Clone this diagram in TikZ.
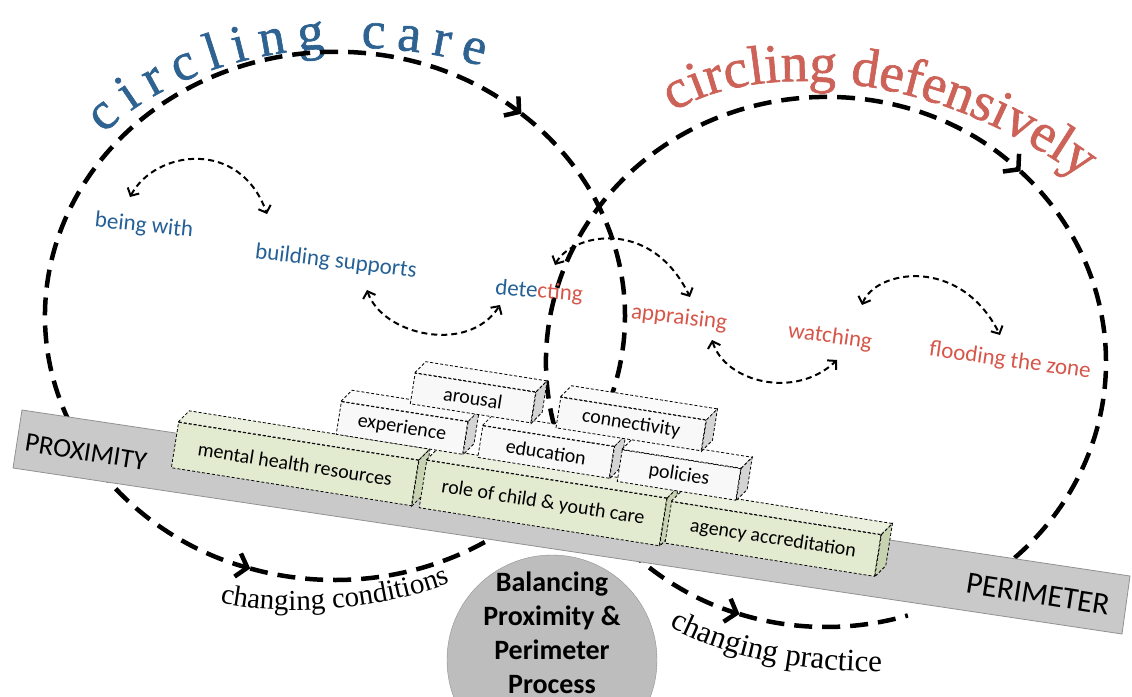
\documentclass[tikz,border=0pt]{standalone}
\usepackage{fontspec}
\setmainfont{Carlito}
\newfontfamily\serifont{Liberation Serif}
\newfontfamily\titlefont[FakeBold=1.2]{Liberation Serif}
\usepackage{xcolor}
\usepackage{tikz}
\usetikzlibrary{arrows.meta, decorations.text}

\definecolor{careblue}{RGB}{46,98,145}
\definecolor{defred}{RGB}{204,98,88}
\definecolor{labelblue}{RGB}{36,96,150}
\definecolor{labelred}{RGB}{214,86,74}
\definecolor{brickgreen}{RGB}{226,234,208}
\definecolor{brickgreenside}{RGB}{198,210,176}
\definecolor{brickwhite}{RGB}{248,248,248}
\definecolor{brickwhiteside}{RGB}{212,212,212}
\definecolor{barfill}{RGB}{201,201,201}
\definecolor{barline}{RGB}{145,145,145}
\definecolor{ballfill}{RGB}{189,189,189}

\tikzset{
  bigloop/.style={line width=4.5pt, dash pattern=on 18pt off 10pt},
  bighead/.style={arrows={-Straight Barb[length=10pt,width=24pt]}},
  smallloop/.style={line width=2pt, dash pattern=on 6pt off 4pt,
    arrows={Straight Barb[length=6pt,width=13pt]-Straight Barb[length=6pt,width=13pt]}},
  phaselabel/.style={font=\fontsize{23}{27}\selectfont, inner sep=2pt},
  brickface/.style={draw, line width=0.8pt, dash pattern=on 3pt off 2pt},
  brick/.style={brickface, rotate=-9, inner sep=0pt, font=\fontsize{20}{24}\selectfont},
}

\begin{document}
\begin{tikzpicture}[x=1pt, y=-1pt]
\clip (0,0) rectangle (1132,696);

\path[decorate, decoration={text along path, text color=careblue, text align={fit to path},
  text={|\titlefont\fontsize{53}{56}\selectfont|circling care}}]
  (104,134) .. controls (175,62) and (330,22) .. (482,66);
\path[decorate, decoration={text along path, text color=defred, text align=center,
  text={|\titlefont\fontsize{55}{58}\selectfont|circling defensively}}]
  (665,118) .. controls (740,60) and (930,62) .. (1090,185);

\draw[bigloop, bighead] (335,316) ++(150:290 and 264) arc[start angle=150, end angle=310, x radius=290, y radius=264];
\draw[bigloop] (335,316) ++(310:290 and 264) arc[start angle=310, end angle=390, x radius=290, y radius=264];
\draw[bigloop, bighead] (335,316) ++(145:290 and 264) arc[start angle=145, end angle=107, x radius=290, y radius=264];
\draw[bigloop] (335,316) ++(107:290 and 264) arc[start angle=107, end angle=57, x radius=290, y radius=264];

\draw[bigloop, bighead] (826,362) ++(160:280 and 265) arc[start angle=160, end angle=314, x radius=280, y radius=265];
\draw[bigloop] (826,362) ++(314:280 and 265) arc[start angle=314, end angle=410, x radius=280, y radius=265];
\draw[bigloop, bighead] (826,362) ++(135:280 and 265) arc[start angle=135, end angle=108, x radius=280, y radius=265];
\draw[bigloop] (826,362) ++(108:280 and 265) arc[start angle=108, end angle=73, x radius=280, y radius=265];

\node[phaselabel, text=labelblue, rotate=-6] (being) at (144,226) {being with};
\node[phaselabel, text=labelblue, rotate=-7] (building) at (336,262) {building supports};
\node[phaselabel, rotate=-5] (detect) at (539,292) {\textcolor{labelblue}{dete}\textcolor{labelred}{cting}};
\node[phaselabel, text=labelred, rotate=-7] (apprais) at (679,318) {appraising};
\node[phaselabel, text=labelred, rotate=-8] (watch) at (830,337) {watching};
\node[phaselabel, text=labelred, rotate=-8] (flood) at (1010,361) {flooding the zone};

\draw[smallloop] ([shift={(-14,-29)}]being.center) .. controls +(25,-47) and +(-27,-76) .. ([shift={(-69,-48)}]building.center);
\draw[smallloop] ([shift={(31,28)}]building.center) .. controls +(15,45) and +(-32,50) .. ([shift={(-39,13)}]detect.center);
\draw[smallloop] ([shift={(16,-27)}]detect.center) .. controls +(15,-30) and +(-40,-82) .. ([shift={(11,-21)}]apprais.center);
\draw[smallloop] ([shift={(33,22)}]apprais.center) .. controls +(13,42) and +(-42,40) .. ([shift={(7,23)}]watch.center);
\draw[smallloop] ([shift={(32,-32)}]watch.center) .. controls +(13,-35) and +(-40,-80) .. ([shift={(-10,-26)}]flood.center);

\filldraw[fill=barfill, draw=barline, line width=0.8pt] (22,410) -- (1130,576) -- (1122,634) -- (13,468) -- cycle;
\node[rotate=-9, font=\fontsize{27}{30}\selectfont] (prox) at (86,452) {PROXIMITY};
\node[rotate=-9, font=\fontsize{31}{34}\selectfont] (perim) at (1038,594) {PERIMETER};

\foreach \nm/\pos/\w/\h/\fc/\sc/\txt in {
  mhr/{(295,464)}/243/46/brickgreen/brickgreenside/mental health resources,
  role/{(543,503)}/243/48/brickgreen/brickgreenside/role of child \& youth care,
  agency/{(773,539)}/212/42/brickgreen/brickgreenside/agency accreditation,
  exper/{(402,428)}/128/33/brickwhite/brickwhiteside/experience,
  educ/{(546,452)}/133/32/brickwhite/brickwhiteside/education,
  polic/{(679,475)}/120/32/brickwhite/brickwhiteside/policies,
  arous/{(473,398)}/122/31/brickwhite/brickwhiteside/arousal,
  conn/{(631,424)}/147/31/brickwhite/brickwhiteside/connectivity}
{
  \node[brick, fill=\fc, minimum width=\w pt, minimum height=\h pt] (\nm) at \pos {\txt};
  \filldraw[brickface, fill=\fc!70!white] (\nm.north west) -- ++(11,-11) -- ([shift={(11,-11)}]\nm.north east) -- (\nm.north east) -- cycle;
  \filldraw[brickface, fill=\sc] (\nm.north east) -- ++(11,-11) -- ([shift={(11,-11)}]\nm.south east) -- (\nm.south east) -- cycle;
}

\node[circle, fill=ballfill, draw=barline, minimum size=210pt, inner sep=0pt] (ball) at (552,660) {};
\node[align=center, font=\bfseries\fontsize{28}{34}\selectfont] (balancetext) at (552,633) {Balancing\\Proximity \&\\Perimeter\\Process};

\path[decorate, decoration={text along path, text align=center,
  text={|\serifont\fontsize{29}{31}\selectfont|changing conditions}}]
  (212,600) .. controls (270,618) and (380,612) .. (458,580);
\path[decorate, decoration={text along path, text align=center,
  text={|\serifont\fontsize{31}{33}\selectfont|changing practice}}]
  (664,624) .. controls (720,655) and (790,672) .. (888,672);
\end{tikzpicture}
\end{document}
